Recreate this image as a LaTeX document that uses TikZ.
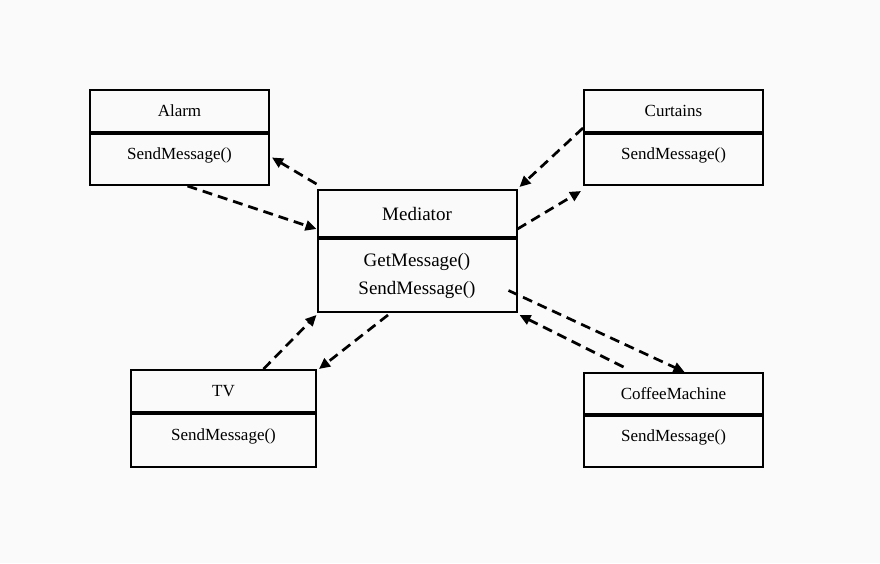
\documentclass[tikz,border=0pt]{standalone}
\usepackage{fontspec}
\setmainfont{Liberation Serif}
\usetikzlibrary{positioning,arrows.meta}
\definecolor{bgcol}{RGB}{250,250,250}
\tikzset{
    classbox/.style={draw, line width=2pt, inner sep=0pt, font=\fontsize{17}{22}\selectfont},
    opsbox/.style={classbox, text depth=12pt},
    msg/.style={line width=2.7pt, dash pattern=on 10pt off 6pt, -{Triangle[length=11pt,width=10pt]}}
}
\begin{document}
\begin{tikzpicture}[x=1pt, y=-1pt]
            \fill[bgcol] (0, 0) rectangle (880, 563);
            \useasboundingbox (0, 0) rectangle (880, 563);

            % mediator
            \node[classbox, minimum width=199pt, minimum height=47pt, font=\fontsize{19}{28}\selectfont] (medtitle) at (417, 213.5) {Mediator};
            \node[classbox, minimum width=199pt, minimum height=73pt, below=0pt of medtitle, align=center, font=\fontsize{19}{28}\selectfont] (medbody) {GetMessage()\\SendMessage()};

            % colleagues
            \node[classbox, minimum width=179pt, minimum height=42pt] (alarmtitle) at (179.5, 111) {Alarm};
            \node[opsbox, minimum width=179pt, minimum height=51pt, below=0pt of alarmtitle] (alarmbody) {SendMessage()};
            \node[classbox, minimum width=179pt, minimum height=42pt] (curtitle) at (673.5, 111) {Curtains};
            \node[opsbox, minimum width=179pt, minimum height=51pt, below=0pt of curtitle] (curbody) {SendMessage()};
            \node[classbox, minimum width=185pt, minimum height=42pt] (tvtitle) at (223.5, 391) {TV};
            \node[opsbox, minimum width=185pt, minimum height=53pt, below=0pt of tvtitle] (tvbody) {SendMessage()};
            \node[classbox, minimum width=179pt, minimum height=41pt] (cofftitle) at (673.5, 393.5) {CoffeeMachine};
            \node[opsbox, minimum width=179pt, minimum height=51pt, below=0pt of cofftitle] (coffbody) {SendMessage()};

            \draw[msg] ([yshift=5pt]medtitle.north west) -- ([xshift=2pt, yshift=2pt]alarmbody.east);           % mediator -- alarm
            \draw[msg] ([xshift=8pt]alarmbody.south) -- ([yshift=9pt]medtitle.south west);                      % alarm -- mediator
            \draw[msg] ([yshift=5pt]curtitle.south west) -- ([xshift=2pt, yshift=2pt]medtitle.north east);      % curtains -- mediator
            \draw[msg] ([yshift=9pt]medtitle.south east) -- ([xshift=-2pt, yshift=-5pt]curbody.south west);     % mediator -- curtains
            \draw[msg] ([xshift=40pt]tvtitle.north) -- ([yshift=-2pt]medbody.south west);                       % tv -- mediator
            \draw[msg] ([xshift=-29pt, yshift=-2pt]medbody.south) -- ([xshift=2pt]tvtitle.north east);          % mediator -- tv
            \draw[msg] ([xshift=-9pt, yshift=-15pt]medbody.east) -- ([xshift=11pt]cofftitle.north);             % mediator -- coffee
            \draw[msg] ([xshift=-50pt, yshift=5pt]cofftitle.north) -- ([xshift=2pt, yshift=-2pt]medbody.south east); % coffee -- mediator
        \end{tikzpicture}
\end{document}
